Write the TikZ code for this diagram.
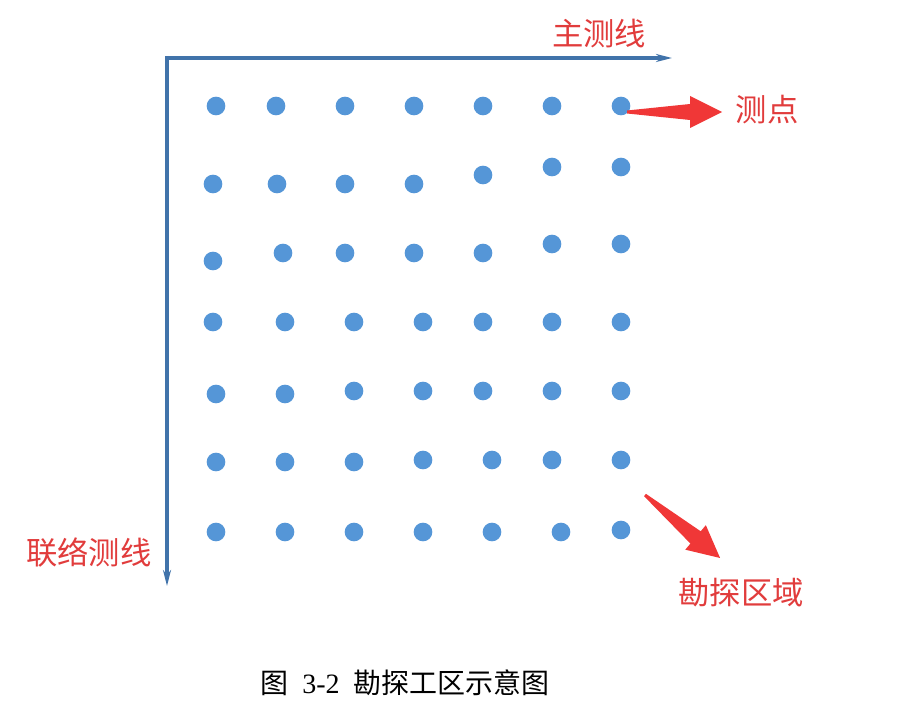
\documentclass[tikz,border=0pt]{standalone}
\usepackage{fontspec}
\setmainfont{Liberation Serif}
\newfontfamily\cjk{Noto Sans CJK SC}
\usetikzlibrary{arrows.meta}
\definecolor{axisblue}{RGB}{65,115,170}
\definecolor{dotblue}{RGB}{85,150,215}
\definecolor{labelred}{RGB}{225,60,60}
\definecolor{arrowred}{RGB}{240,55,55}
\tikzset{
  axis/.style={axisblue, line width=3pt, -{Stealth[length=12pt,width=6pt]}},
  pt/.style={circle, fill=dotblue, inner sep=0pt, minimum size=14pt},
  lbl/.style={labelred, font=\cjk\fontsize{23.5}{23.5}\selectfont, inner sep=0pt},
}
% fat red arrow: start, angle, length
\newcommand\fatarrow[3]{\fill[arrowred, shift={#1}, rotate=#2]
  (0,-1.5) -- (#3-32,-8) -- (#3-32,-16) -- (#3,0) -- (#3-32,16) -- (#3-32,8) -- (0,1.5) -- cycle;}

\begin{document}
\begin{tikzpicture}[x=0.75pt,y=-0.75pt]
\useasboundingbox (0,0) rectangle (924,705);
% axes
\coordinate (c) at (167,56);
\coordinate (o) at (167,58);
\coordinate (xend) at (672,58);
\coordinate (yend) at (167,586);
\draw[axis] (o) -- (xend);
\draw[axis] (c) -- (yend);
% measuring points
\foreach \x/\y [count=\i] in {
  216/106, 276/106, 345/106, 414/106, 483/106, 552/106, 621/106,
  213/184, 277/184, 345/184, 414/184, 483/175, 552/167, 621/167,
  213/261, 283/253, 345/253, 414/253, 483/253, 552/244, 621/244,
  213/322, 285/322, 354/322, 423/322, 483/322, 552/322, 621/322,
  216/394, 285/394, 354/391, 423/391, 483/391, 552/391, 621/391,
  216/462, 285/462, 354/462, 423/460, 492/460, 552/460, 621/460,
  216/532, 285/532, 354/532, 423/532, 492/532, 561/532, 621/530}
  \node[pt] (p\i) at (\x,\y) {};
% labels
\node[lbl] (zcx) at (599,34) {主测线};
\node[lbl] (cd) at (767,110) {测点};
\node[lbl] (ktqy) at (741,593) {勘探区域};
\node[lbl] (llcx) at (89,553) {联络测线};
% red arrows
\coordinate (a1) at (627,112);
\coordinate (a2) at (645,495);
\fatarrow{(a1)}{0}{95}
\fatarrow{(a2)}{-40}{98}
% caption
\node[font=\fontsize{21}{21}\selectfont, inner sep=0pt] (cap) at (405,683)
  {{\cjk 图}\enspace 3-2\enspace{\cjk 勘探工区示意图}};
\end{tikzpicture}
\end{document}
